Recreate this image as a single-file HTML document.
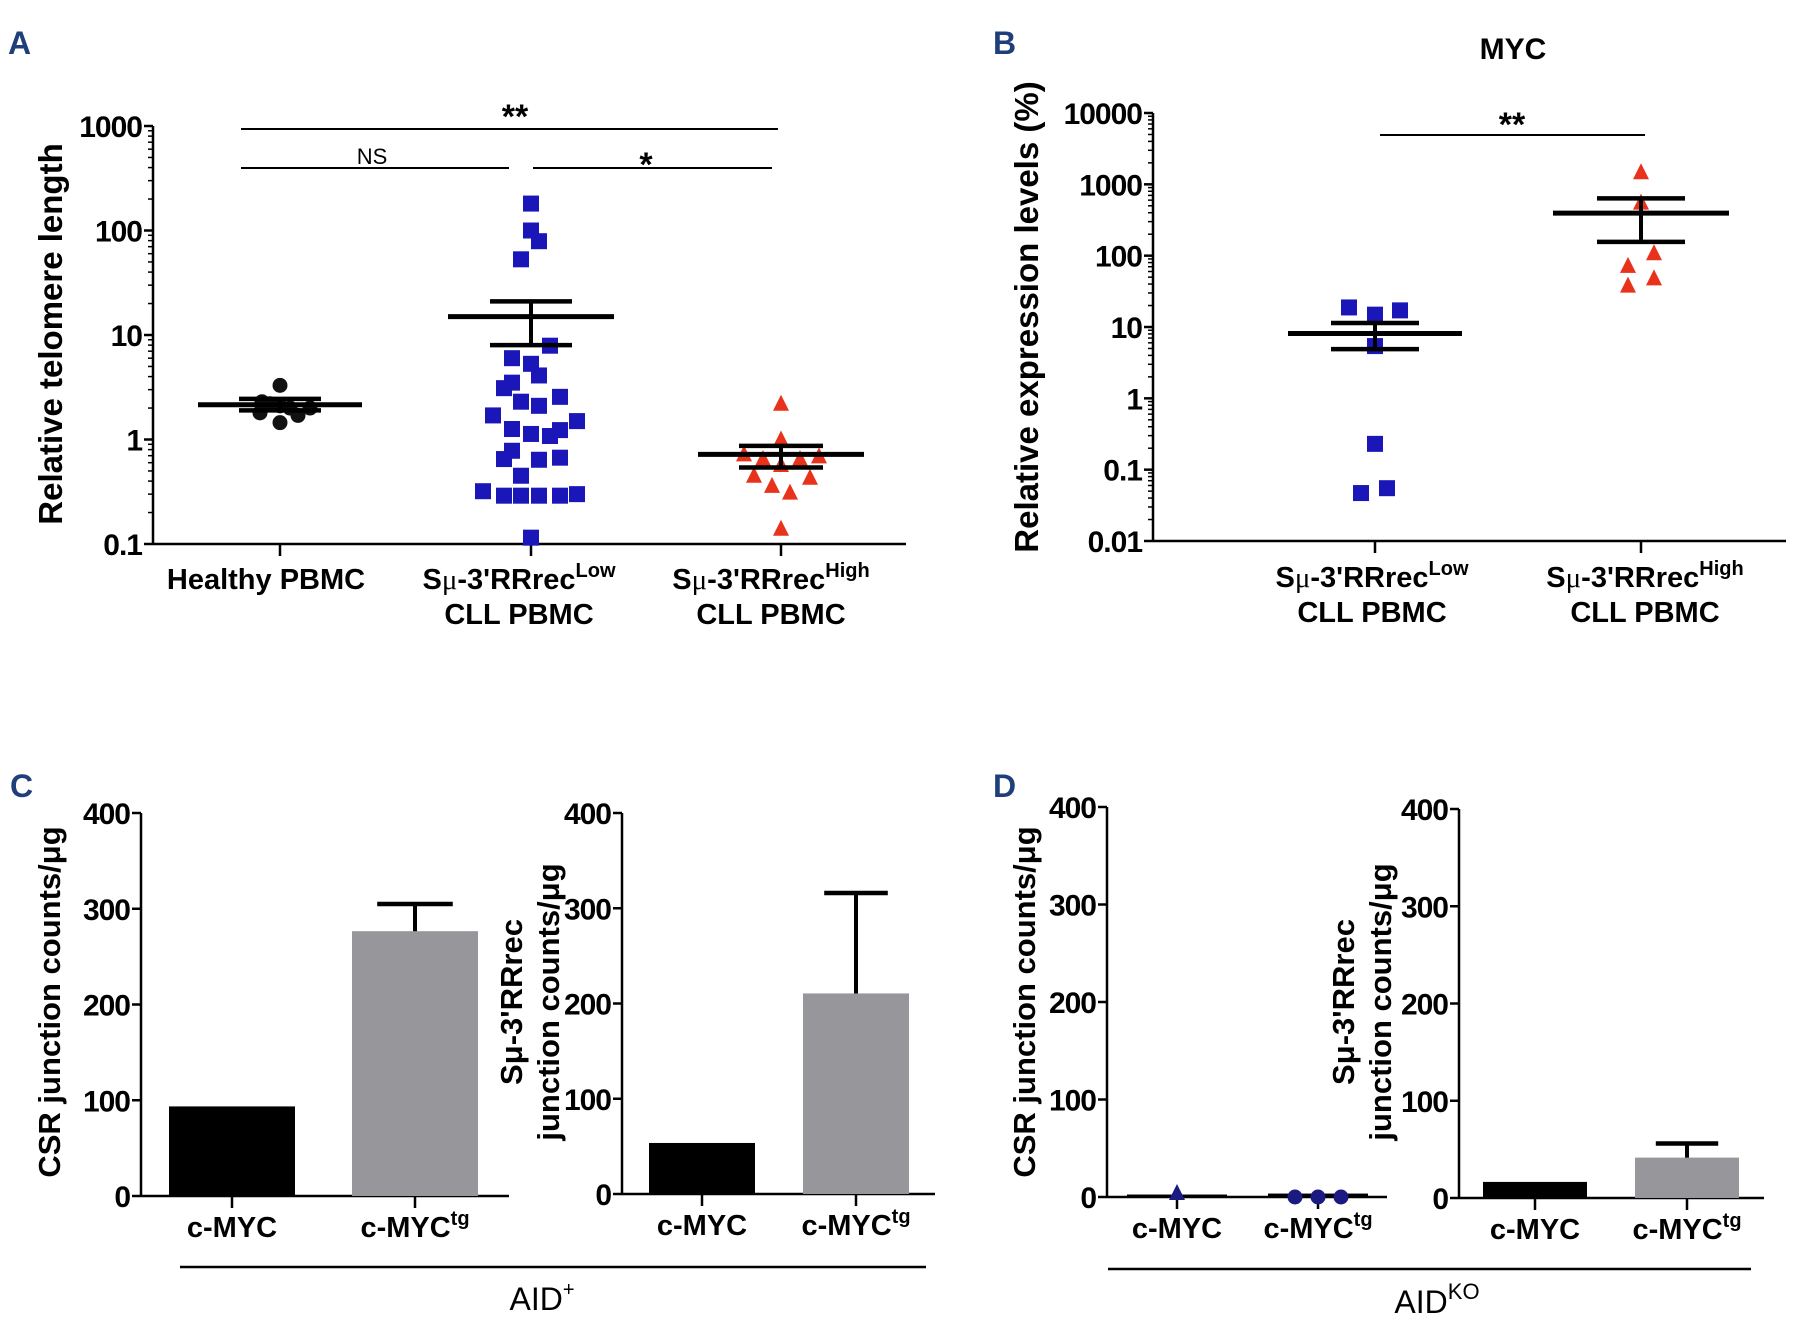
<!DOCTYPE html>
<html><head><meta charset="utf-8"><style>
html,body{margin:0;padding:0;background:#fff;}
svg{display:block;font-family:"Liberation Sans",Arial,sans-serif;}
</style></head><body>
<svg id="fig" width="1794" height="1323" viewBox="0 0 1794 1323" xmlns="http://www.w3.org/2000/svg"></svg>
<script>
// ---------- DATA ----------
const aCategories = ["Healthy PBMC", "Low", "High"];
const aHealthyVals = [3.3, 2.3, 2.2, 2.1, 2.0, 1.8, 1.7, 1.45, 2.0];
const aHealthyJit = [0, -18, -10, 0, 10, -20, 18, 0, 30];
const aLowVals = [181,100,79,53,7.9,6.0,5.3,4.1,3.5,3.1,2.56,2.3,2.1,1.7,1.5,1.26,1.23,1.13,1.08,0.78,0.65,0.64,0.67,0.45,0.32,0.29,0.29,0.29,0.29,0.30,0.115];
const aLowJit = [0,0,8,-10,19,-19,0,8,-19,-27,29,-10,8,-38,46,-19,29,0,19,-19,-27,8,29,-10,-48,-27,-10,8,29,46,0];
const aHighVals = [2.2,1.0,0.72,0.65,0.65,0.69,0.57,0.45,0.43,0.36,0.31,0.14];
const aHighJit = [0,0,-37,-18,19,38,0,-27,29,-9,9,0];
const aMeans = [2.15, 15, 0.72];
const aSemHi = [2.45, 21, 0.87];
const aSemLo = [1.9, 8.0, 0.54];
const aTicks = [0.1, 1, 10, 100, 1000];
const aTickLabels = ["0.1","1","10","100","1000"];
const bLowVals = [18.8, 14.9, 17.1, 5.4, 0.23, 0.047, 0.055];
const bLowJit = [-26, 0, 25, 0, 0, -14, 12];
const bHighVals = [1480, 555, 108, 72, 48, 38];
const bHighJit = [0, 0, 13, -13, 13, -13];
const bMeans = [8.1, 395];
const bSemHi = [11.4, 635];
const bSemLo = [4.9, 156];
const bTicks = [0.01, 0.1, 1, 10, 100, 1000, 10000];
const bTickLabels = ["0.01","0.1","1","10","100","1000","10000"];
const barTicks = [0, 100, 200, 300, 400];
const barTickLabels = ["0","100","200","300","400"];
const c1Vals = [92, 275];
const c1Err = [0, 305];
const c2Vals = [52, 209];
const c2Err = [0, 316];
const d1Vals = [1, 2];
const d1Err = [0, 0];
const d2Vals = [15, 40];
const d2Err = [0, 56];

// ---------- HELPERS ----------
const NS = "http://www.w3.org/2000/svg";
const svg = document.getElementById('fig');
function mk(tag, attrs, parent) {
  const e = document.createElementNS(NS, tag);
  for (const k in attrs) e.setAttribute(k, attrs[k]);
  (parent || svg).appendChild(e);
  return e;
}
function line(x1,y1,x2,y2,w,parent){ return mk('line',{x1,y1,x2,y2,stroke:'#000','stroke-width':w||2.5},parent); }
function text(x,y,str,size,opts,parent){
  const t = mk('text',Object.assign({x,y,'font-size':size,'font-weight':'bold','text-anchor':'middle',fill:'#000'},opts||{}),parent);
  t.textContent = str; return t;
}
function logScale(top, bottom, yTop, yBot){
  const lt=Math.log10(top), lb=Math.log10(bottom);
  return v => yTop + (lt-Math.log10(v))/(lt-lb)*(yBot-yTop);
}
function linScale(max, yTop, yBot){ return v => yBot - v/max*(yBot-yTop); }

function panelLabel(x,y,s){
  const t=text(x,y,s,32,{fill:'#1f3f7a','text-anchor':'start'});
  
  
}

function logAxis(g, ax, yTop, yBot, xEnd, ticks, labels, ys){
  line(ax, yTop, ax, yBot, 2.5, g);
  line(ax, yBot, xEnd, yBot, 2.5, g);
  for (let i=0;i<ticks.length;i++){
    const y=ys(ticks[i]);
    line(ax-9,y,ax,y,2.5,g);
    const t=text(ax-11,y+11,labels[i],30,{'text-anchor':'end','letter-spacing':'-1'},g);
    
    
    if (i<ticks.length-1){
      for (let m=2;m<10;m++){ const yy=ys(ticks[i]*m); line(ax-5,yy,ax,yy,1.5,g); }
    }
  }
}
function catTick(g,x,yBot){ line(x,yBot,x,yBot+12,2.5,g); }
function square(g,x,y,c){ const r=mk('rect',{x:x-8,y:y-8,width:16,height:16,fill:c},g);   }
function tri(g,x,y,c){ const p=mk('polygon',{points:`${x},${y-9} ${x+8},${y+7} ${x-8},${y+7}`,fill:c},g);   }
function hexDot(g,x,y,c){ const p=mk('circle',{cx:x,cy:y,r:7.5,fill:c},g);   }
function meanSem(g,x,hw,cw,ys,m,hi,lo){
  line(x-hw,ys(m),x+hw,ys(m),5,g);
  line(x-cw,ys(hi),x+cw,ys(hi),4.5,g);
  line(x-cw,ys(lo),x+cw,ys(lo),4.5,g);
  line(x,ys(hi),x,ys(lo),4,g);
}
function catLabel(g,x,y,main,sup){
  const t=mk('text',{x,y,'font-size':29,'font-weight':'bold','text-anchor':'middle'},g);
  
  
  const a=mk('tspan',{},t); a.textContent=main;
  if (sup){ const b=mk('tspan',{dy:-12,'font-size':20},t); b.textContent=sup; }
  return t;
}
function smuLabel(g,x,y,sup){
  const t=mk('text',{x,y,'font-size':29,'font-weight':'bold','text-anchor':'middle'},g);
  
  
  const a=mk('tspan',{},t); a.textContent='S';
  const m=mk('tspan',{'font-weight':'normal','font-family':'Liberation Serif, serif'},t); m.textContent='μ';
  const r=mk('tspan',{},t); r.textContent="-3'RRrec";
  const s=mk('tspan',{dy:-12,'font-size':20},t); s.textContent=sup;
  return t;
}
function yTitle(g,x,y,lines,size){
  lines.forEach((s,i)=>{
    const t=text(x+i*(size+6),y,s,size,{transform:`rotate(-90 ${x+i*(size+6)} ${y})`},g);
    
    
  });
}

// ---------- PANEL A ----------
panelLabel(8,54,'A');
const gA = mk('g',{});  
const yA = logScale(1000,0.1,126,544);
logAxis(gA,153,126,544,906,aTicks,aTickLabels,yA);
const aX = [280,531,781];
aX.forEach(x=>catTick(gA,x,544));
aHealthyVals.forEach((v,i)=>hexDot(gA,aX[0]+aHealthyJit[i],yA(v),'#111'));
aLowVals.forEach((v,i)=>square(gA,aX[1]+aLowJit[i],yA(v),'#1a16b8'));
aHighVals.forEach((v,i)=>tri(gA,aX[2]+aHighJit[i],yA(v),'#e8321c'));
meanSem(gA,aX[0],82,41,yA,aMeans[0],aSemHi[0],aSemLo[0]);
meanSem(gA,aX[1],83,41,yA,aMeans[1],aSemHi[1],aSemLo[1]);
meanSem(gA,aX[2],83,42,yA,aMeans[2],aSemHi[2],aSemLo[2]);
catLabel(gA,aX[0]-14,589,'Healthy PBMC');
smuLabel(gA,aX[1]-12,589,'Low'); catLabel(gA,aX[1]-12,624,'CLL PBMC');
smuLabel(gA,aX[2]-10,589,'High'); catLabel(gA,aX[2]-10,624,'CLL PBMC');
yTitle(gA,62,334,['Relative telomere length'],33);
line(241,129,778,129,2,gA); text(515,128,'**',34,{},gA);
line(241,168,509,168,2,gA); text(372,164,'NS',22,{'font-weight':'normal'},gA);
line(533,168,772,168,2,gA); text(646,176,'*',34,{},gA);

// ---------- PANEL B ----------
panelLabel(993,54,'B');
const gB = mk('g',{});  
const yB = logScale(10000,0.01,113,541);
text(1513,59,'MYC',30,{},gB);
logAxis(gB,1153,113,541,1786,bTicks,bTickLabels,yB);
const bX = [1375,1641];
bX.forEach(x=>catTick(gB,x,541));
bLowVals.forEach((v,i)=>square(gB,bX[0]+bLowJit[i],yB(v),'#1a16b8'));
bHighVals.forEach((v,i)=>tri(gB,bX[1]+bHighJit[i],yB(v),'#e8321c'));
meanSem(gB,bX[0],87,44,yB,bMeans[0],bSemHi[0],bSemLo[0]);
meanSem(gB,bX[1],88,44,yB,bMeans[1],bSemHi[1],bSemLo[1]);
smuLabel(gB,bX[0]-3,587,'Low'); catLabel(gB,bX[0]-3,622,'CLL PBMC');
smuLabel(gB,bX[1]+4,587,'High'); catLabel(gB,bX[1]+4,622,'CLL PBMC');
yTitle(gB,1038,317,['Relative expression levels (%)'],33);
line(1380,135,1645,135,2,gB); text(1512,136,'**',34,{},gB);

// ---------- BAR CHART HELPER ----------
function barChart(name, ax, yTop, yBot, xEnd, xs, bw, vals, errs, colors, title, titleX){
  const g = mk('g',{});  
  const ys = linScale(400,yTop,yBot);
  line(ax,yTop,ax,yBot,2.5,g); line(ax,yBot,xEnd,yBot,2.5,g);
  barTicks.forEach((v,i)=>{
    const y=ys(v); line(ax-9,y,ax,y,2.5,g);
    const t=text(ax-11,y+11,barTickLabels[i],30,{'text-anchor':'end','letter-spacing':'-1'},g);
    
    
  });
  vals.forEach((v,i)=>{
    if (errs[i]>0){ line(xs[i],ys(errs[i]),xs[i],ys(v),4,g); line(xs[i]-bw*0.3,ys(errs[i]),xs[i]+bw*0.3,ys(errs[i]),4.5,g); }
    const r=mk('rect',{x:xs[i]-bw/2,y:ys(v)-1.5,width:bw,height:yBot-ys(v)+1.5,fill:colors[i]},g);
    
    
    catTick(g,xs[i],yBot);
  });
  catLabel(g,xs[0],yBot+41,'c-MYC');
  catLabel(g,xs[1],yBot+41,'c-MYC','tg');
  yTitle(g,titleX,1002,title,31);
  return {g,ys};
}

// ---------- PANEL C ----------
panelLabel(10,797,'C');
barChart('panel-c-csr-chart',141,813,1196,509,[232,415],126,c1Vals,c1Err,['#000','#97969b'],['CSR junction counts/μg'],60);
barChart('panel-c-smu-chart',622,813,1194,935,[702,856],106,c2Vals,c2Err,['#000','#97969b'],["Sμ-3'RRrec",'junction counts/μg'],522);
line(180,1267,926,1267,2.5);
const aidp=mk('text',{x:542,y:1310,'font-size':32,'text-anchor':'middle'});  
mk('tspan',{},aidp).textContent='AID'; mk('tspan',{dy:-14,'font-size':20},aidp).textContent='+';

// ---------- PANEL D ----------
panelLabel(993,797,'D');
const d1 = barChart('panel-d-csr-chart',1107,807,1197,1387,[1177,1318],100,d1Vals,d1Err,['#000','#000'],['CSR junction counts/μg'],1035);
tri(d1.g,1177,1193,'#1a1a80');
[-23,0,23].forEach(o=>hexDot(d1.g,1318+o,1197,'#1a1a80'));
barChart('panel-d-smu-chart',1459,809,1198,1764,[1535,1687],104,d2Vals,d2Err,['#000','#97969b'],["Sμ-3'RRrec",'junction counts/μg'],1354);
line(1108,1269,1751,1269,2.5);
const aidk=mk('text',{x:1437,y:1313,'font-size':32,'text-anchor':'middle'});  
mk('tspan',{},aidk).textContent='AID'; mk('tspan',{dy:-14,'font-size':22},aidk).textContent='KO';
</script>
</body></html>
